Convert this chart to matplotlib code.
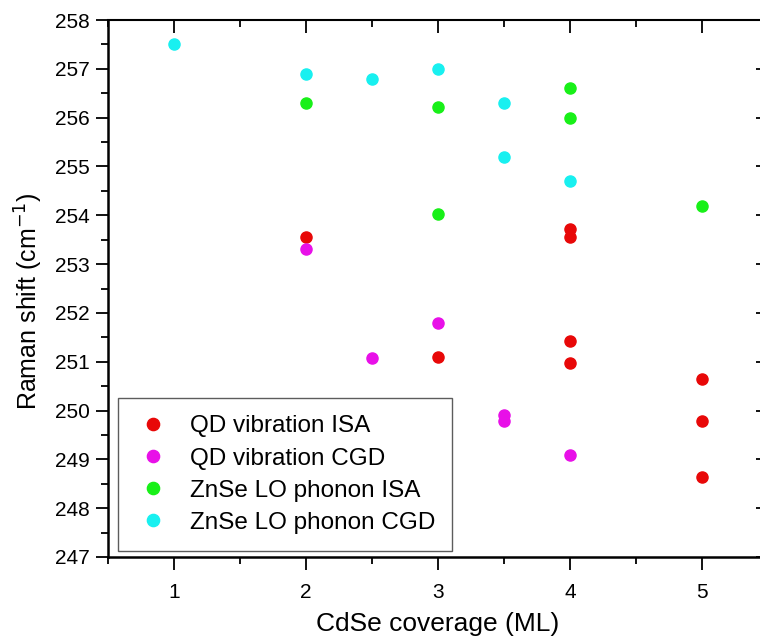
import matplotlib
matplotlib.use("Agg")
import matplotlib.pyplot as plt
from matplotlib.ticker import MultipleLocator

plt.rcParams["font.family"] = ["Liberation Sans", "DejaVu Sans"]

# QD vibration, ISA samples
qd_isa_x = [2, 3, 4, 4, 4, 4, 5, 5, 5]
qd_isa_y = [253.55, 251.1, 253.72, 253.55, 251.43, 250.98, 250.65, 249.78, 248.63]
# QD vibration, CGD samples
qd_cgd_x = [2, 2.5, 3, 3.5, 3.5, 4]
qd_cgd_y = [253.3, 251.07, 251.8, 249.9, 249.78, 249.08]
# ZnSe LO phonon, ISA samples
zn_isa_x = [2, 3, 3, 4, 4, 5]
zn_isa_y = [256.3, 256.22, 254.03, 256.6, 256.0, 254.2]
# ZnSe LO phonon, CGD samples
zn_cgd_x = [1, 2, 2.5, 3, 3.5, 3.5, 4]
zn_cgd_y = [257.5, 256.9, 256.8, 257.0, 256.3, 255.2, 254.7]

series = [
    (qd_isa_x, qd_isa_y, "#e80808", "QD vibration ISA"),
    (qd_cgd_x, qd_cgd_y, "#e810e8", "QD vibration CGD"),
    (zn_isa_x, zn_isa_y, "#18f018", "ZnSe LO phonon ISA"),
    (zn_cgd_x, zn_cgd_y, "#18f0f0", "ZnSe LO phonon CGD"),
]

fig = plt.figure(figsize=(7.6, 6.41), dpi=100)
ax = fig.add_axes([108 / 760, 1 - 557 / 641, 660 / 760, 537 / 641])

for x, y, c, lab in series:
    ax.plot(x, y, "o", ms=8, color=c, mec=c, ls="none", label=lab)

ax.set_xlim(0.5, 5.5)
ax.set_ylim(247, 258)
ax.xaxis.set_major_locator(MultipleLocator(1))
ax.xaxis.set_minor_locator(MultipleLocator(0.5))
ax.yaxis.set_major_locator(MultipleLocator(1))
ax.yaxis.set_minor_locator(MultipleLocator(0.5))

ax.tick_params(axis="both", which="major", direction="out", length=9, width=1.3,
               labelsize=15, colors="black")
ax.tick_params(axis="both", which="minor", direction="out", length=5, width=1.3)
ax.tick_params(axis="x", which="major", pad=10)
ax.tick_params(axis="y", which="major", pad=4)
ax.tick_params(top=True, right=True, which="both")

# top/right ticks point inward
for t in ax.xaxis.get_major_ticks() + ax.xaxis.get_minor_ticks():
    t.tick2line.set_marker(3)
for t in ax.yaxis.get_major_ticks() + ax.yaxis.get_minor_ticks():
    t.tick2line.set_marker(0)

for s in ["left", "bottom"]:
    ax.spines[s].set_linewidth(1.8)
for s in ["top", "right"]:
    ax.spines[s].set_linewidth(1.5)

ax.set_xlabel("CdSe coverage (ML)", fontsize=19, labelpad=7)
ax.set_ylabel("Raman shift (cm$^{-1}$)", fontsize=18)
ax.yaxis.set_label_coords(-0.095, 0.477)

leg = ax.legend(loc="lower left", bbox_to_anchor=(10 / 660, 6 / 537), fontsize=17.5,
                frameon=True, fancybox=False, edgecolor="#333333",
                handletextpad=0.8, borderpad=0.7, labelspacing=0.42,
                handlelength=1.45, borderaxespad=0, markerscale=1.1)
leg.get_frame().set_linewidth(1.0)

fig.savefig("out.png", dpi=100)
